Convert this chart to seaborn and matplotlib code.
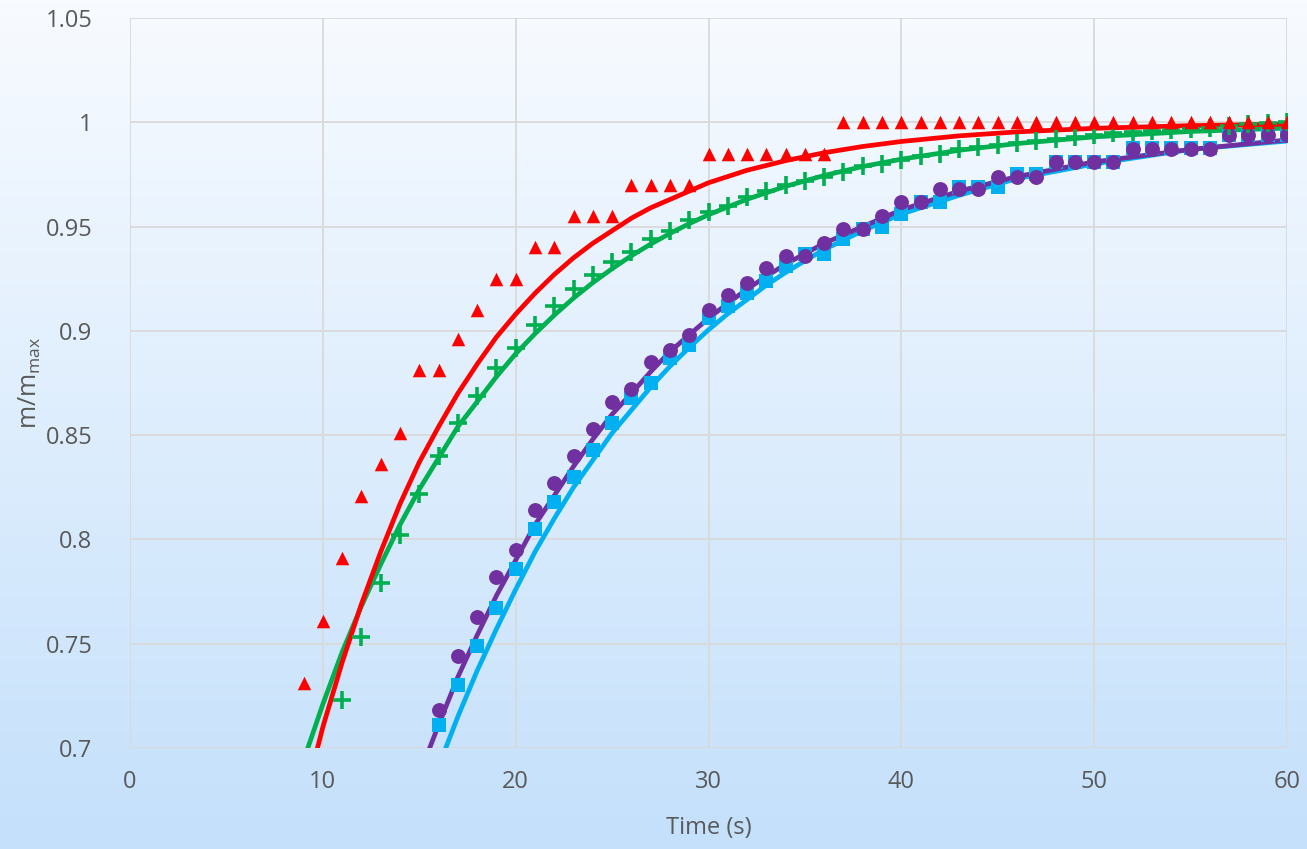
import numpy as np
import pandas as pd
import matplotlib
matplotlib.use("Agg")
import matplotlib.pyplot as plt
import seaborn as sns

# ---- measured mass fraction vs time ----
t_red = list(range(9, 61))
m_red = [0.731, 0.761, 0.791, 0.821, 0.836, 0.851, 0.881, 0.881, 0.896, 0.910,
         0.925, 0.925, 0.940, 0.940, 0.955, 0.955, 0.955, 0.970, 0.970, 0.970,
         0.970, 0.985, 0.985, 0.985, 0.985, 0.985, 0.985, 0.985] + [1.0] * 24

t_green = list(range(11, 61))
m_green = [0.723, 0.753, 0.779, 0.802, 0.822, 0.840, 0.856, 0.869, 0.882, 0.892,
           0.903, 0.912, 0.920, 0.927, 0.933, 0.938, 0.944, 0.948, 0.953, 0.957,
           0.960, 0.964, 0.967, 0.970, 0.972, 0.974, 0.976, 0.979, 0.980, 0.982,
           0.984, 0.985, 0.987, 0.988, 0.989, 0.990, 0.991, 0.992, 0.993, 0.994,
           0.995, 0.9955, 0.996, 0.9965, 0.997, 0.9975, 0.998, 0.999, 0.9995, 1.0]

t_purple = list(range(16, 61))
m_purple = [0.718, 0.744, 0.763, 0.782, 0.795, 0.814, 0.827, 0.840, 0.853, 0.866,
            0.872, 0.885, 0.891, 0.898, 0.910, 0.917, 0.923, 0.930, 0.936, 0.936,
            0.942, 0.949, 0.949, 0.955, 0.962, 0.962, 0.968, 0.968, 0.968, 0.974,
            0.974, 0.974, 0.981, 0.981, 0.981, 0.981, 0.987, 0.987, 0.987, 0.987,
            0.987, 0.994, 0.994, 0.994, 0.994]

t_blue = list(range(16, 61))
m_blue = [0.711, 0.730, 0.749, 0.767, 0.786, 0.805, 0.818, 0.830, 0.843, 0.856,
          0.868, 0.875, 0.887, 0.893, 0.906, 0.912, 0.918, 0.924, 0.931, 0.937,
          0.937, 0.944, 0.949, 0.950, 0.956, 0.962, 0.962, 0.969, 0.969, 0.969,
          0.975, 0.975, 0.981, 0.981, 0.981, 0.981, 0.9875, 0.9875, 0.9875, 0.9875,
          0.9875, 0.994, 0.994, 0.994, 0.994]

# ---- fitted curves, sampled ----
tf_red = [9, 10, 11, 12, 13, 14, 15, 16, 17, 18, 19, 20, 21, 22, 23, 24, 25, 26,
          27, 28, 29, 30, 32, 34, 36, 38, 40, 43, 46, 50, 55, 60]
mf_red = [0.674, 0.710, 0.741, 0.769, 0.794, 0.817, 0.837, 0.854, 0.870, 0.884,
          0.897, 0.908, 0.918, 0.927, 0.935, 0.942, 0.948, 0.954, 0.959, 0.963,
          0.967, 0.971, 0.977, 0.9816, 0.9854, 0.9884, 0.9908, 0.9935, 0.9954,
          0.9971, 0.9984, 0.9991]

tf_green = [9, 10, 11, 12, 13, 14, 15, 16, 17, 18, 19, 20, 21, 22, 23, 24, 25,
            26, 27, 28, 29, 30, 32, 34, 36, 38, 40, 43, 46, 50, 55, 60]
mf_green = [0.694, 0.721, 0.746, 0.768, 0.788, 0.807, 0.824, 0.839, 0.854, 0.866,
            0.878, 0.889, 0.8986, 0.9075, 0.9157, 0.9231, 0.9298, 0.936, 0.9416,
            0.9467, 0.9514, 0.9557, 0.9631, 0.9693, 0.9745, 0.9788, 0.9823,
            0.9866, 0.9898, 0.993, 0.9956, 0.9972]

tf_purple = [15, 16, 17, 18, 19, 20, 21, 22, 23, 24, 25, 26, 27, 28, 29, 30, 31,
             32, 33, 34, 35, 36, 38, 40, 43, 46, 50, 55, 60]
mf_purple = [0.687, 0.711, 0.734, 0.754, 0.773, 0.790, 0.807, 0.821, 0.835, 0.848,
             0.860, 0.870, 0.8804, 0.890, 0.8981, 0.906, 0.9132, 0.920, 0.9261,
             0.932, 0.937, 0.942, 0.950, 0.958, 0.967, 0.974, 0.981, 0.987, 0.9915]

tf_blue = [16, 17, 18, 19, 20, 21, 22, 23, 24, 25, 26, 27, 28, 29, 30, 31, 32,
           33, 34, 35, 36, 38, 40, 43, 46, 50, 55, 60]
mf_blue = [0.691, 0.715, 0.737, 0.757, 0.776, 0.794, 0.810, 0.825, 0.838, 0.851,
           0.862, 0.873, 0.883, 0.892, 0.9005, 0.9082, 0.915, 0.9219, 0.928,
           0.9336, 0.939, 0.948, 0.956, 0.965, 0.973, 0.980, 0.987, 0.991]

RED, GREEN, PURPLE, BLUE = "#FF0000", "#00B050", "#7030A0", "#00B0F0"
GRID, TXT = "#D9D9D9", "#595959"

sns.set_theme(style="white")
plt.rcParams["font.family"] = ["Open Sans", "DejaVu Sans"]

W, H = 1307, 849
fig = plt.figure(figsize=(W / 100, H / 100), dpi=100)

# soft vertical background gradient
bg = fig.add_axes([0, 0, 1, 1], zorder=-10)
top = np.array([248, 251, 255]) / 255
bot = np.array([196, 224, 251]) / 255
f = np.linspace(0, 1, 256)[:, None]
grad = top[None, :] * (1 - f) + bot[None, :] * f
bg.imshow(grad[:, None, :], aspect="auto", extent=[0, 1, 0, 1])
bg.set_axis_off()

ax = fig.add_axes([130 / W, 1 - 748 / H, (1287 - 130) / W, (748 - 18) / H])
ax.patch.set_alpha(0)

# fitted curves
for tf, mf, c in [(tf_blue, mf_blue, BLUE), (tf_purple, mf_purple, PURPLE),
                  (tf_green, mf_green, GREEN), (tf_red, mf_red, RED)]:
    sns.lineplot(x=tf, y=mf, color=c, lw=3.4, ax=ax, zorder=3)

# measurements
sns.scatterplot(x=t_blue, y=m_blue, marker="s", s=90, color=BLUE,
                edgecolor=BLUE, linewidth=0, ax=ax, zorder=4)
sns.scatterplot(x=t_purple, y=m_purple, marker="o", s=115, color=PURPLE,
                edgecolor=PURPLE, linewidth=0, ax=ax, zorder=5)
sns.scatterplot(x=t_green, y=m_green, marker="+", s=150, color=GREEN,
                linewidth=2.6, ax=ax, zorder=6)
sns.scatterplot(x=t_red, y=m_red, marker="^", s=95, color=RED,
                edgecolor=RED, linewidth=0, ax=ax, zorder=7)

ax.set_xlim(0, 60)
ax.set_ylim(0.7, 1.05)
ax.set_xticks(range(0, 61, 10))
yt = [0.7, 0.75, 0.8, 0.85, 0.9, 0.95, 1.0, 1.05]
ax.set_yticks(yt)
ax.set_yticklabels([f"{v:g}" for v in yt])
ax.grid(True, color=GRID, lw=1.3)
ax.set_axisbelow(True)
for s in ax.spines.values():
    s.set_visible(False)
ax.tick_params(axis="both", length=0, colors=TXT, labelsize=17)
ax.tick_params(axis="y", pad=27)
ax.tick_params(axis="x", pad=16)

ax.set_xlabel("Time (s)", color=TXT, fontsize=17, labelpad=16)
ax.set_ylabel(r"m/m$_{\mathregular{max}}$", color=TXT, fontsize=18, labelpad=2)

fig.savefig("out.png", dpi=100)
